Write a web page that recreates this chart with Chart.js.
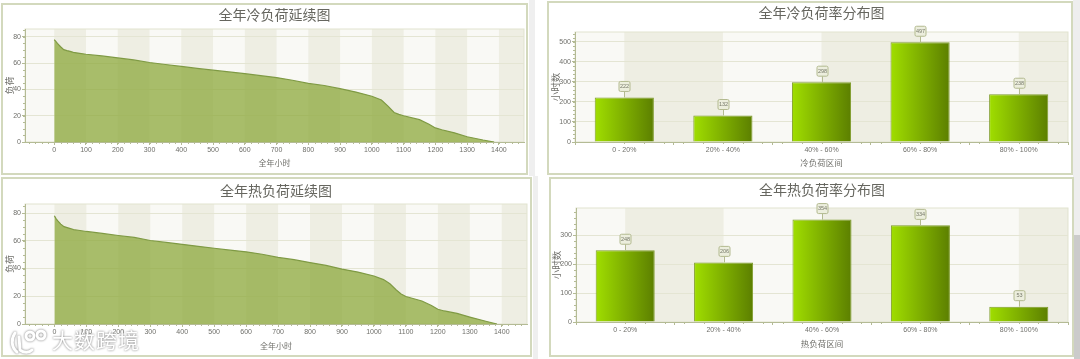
<!DOCTYPE html>
<html>
<head>
<meta charset="utf-8">
<title>全年负荷图</title>
<script src="https://cdn.jsdelivr.net/npm/chart.js@4"></script>
<style>
  html, body { margin: 0; padding: 0; background: #fff; overflow: hidden; }
  #page { position: relative; width: 1080px; height: 359px; overflow: hidden; }
  .panel { position: absolute; box-sizing: border-box; border: 2px solid #d3d9bd; }
  canvas { position: absolute; filter: blur(0.45px); }
  .strip { position: absolute; }
  #mark { position: absolute; left: 52px; top: 324px; font: 21px "Noto Sans CJK SC"; letter-spacing: 1px;
          color: #fff; filter: drop-shadow(0 0 1px #777); white-space: nowrap; }
  #logo { position: absolute; left: 9px; top: 327px; filter: drop-shadow(0 0 1px #777); }
</style>
</head>
<body>
<div id="page"></div>
<script>
// duration curves
const hours = [0, 5, 10, 20, 30, 40, 50, 60, 80, 100, 150, 200, 250, 300, 350, 400, 450, 500, 550, 600, 650, 700, 750, 800, 850, 900, 950, 1000, 1030, 1050, 1070, 1085, 1100, 1150, 1180, 1200, 1220, 1260, 1300, 1350, 1385];
const coldLoad = [78, 76.5, 75, 72.5, 70.3, 69.6, 69, 68.2, 67.5, 66.8, 65.5, 64, 62.5, 60.5, 59, 57.5, 56, 54.7, 53.3, 52, 50.5, 49, 47, 44.6, 43, 40.6, 38, 34.8, 32, 27.5, 22.5, 21, 20, 17, 13.5, 10.7, 9.3, 7, 4, 1.5, 0];
const heatLoad = [78, 76, 74.5, 72, 70.2, 69.5, 68.8, 68, 67.4, 66.7, 65.3, 63.8, 62.4, 60.2, 58.8, 57.4, 56, 54.6, 53.2, 52, 50.3, 48, 46.4, 44.3, 42.2, 39.6, 37.4, 34.6, 32, 29, 24.5, 21.6, 19.8, 16.6, 13.4, 10.6, 9.4, 7.6, 5, 2, 0];
const hourTicks = [0, 100, 200, 300, 400, 500, 600, 700, 800, 900, 1000, 1100, 1200, 1300, 1400];
const loadTicks = [0, 20, 40, 60, 80];

// load rate distribution
const rateCold = ['0 - 20%', '20% - 40%', '40% - 60%', '60% - 80%', '80% - 100%'];
const rateHeat = ['0 - 20%', '20% - 40%', '40% - 60%', '60% - 80%', '80% - 100%'];
const coldHours = [222, 132, 298, 497, 238];
const heatHours = [248, 206, 354, 334, 53];
const coldHourTicks = [0, 100, 200, 300, 400, 500];
const heatHourTicks = [0, 100, 200, 300];

const cjk = '"Noto Sans CJK SC"';
const tickFont = '"Liberation Sans Narrow", "Liberation Sans"';
const textColor = '#6f6f6a';
const axisColor = '#b4bb95';
const page = document.getElementById('page');

// grey strips at the screenshot edges
[[529, 0, 6, 176, '#efefef'], [533, 176, 5, 183, '#efefef'], [1073, 0, 7, 235, '#eeeeee'], [1074, 235, 6, 124, '#cbcbcb']].forEach(s => {
  const d = document.createElement('div');
  d.className = 'strip';
  d.style.cssText = `left:${s[0]}px;top:${s[1]}px;width:${s[2]}px;height:${s[3]}px;background:${s[4]}`;
  page.appendChild(d);
});

// alternating bands between the x ticks, drawn under the grid
const bandPlugin = {
  id: 'bands',
  beforeDraw(chart) {
    const { ctx, chartArea: a, scales } = chart;
    const x = scales.x;
    ctx.save();
    ctx.fillStyle = '#f9f9f5';
    ctx.fillRect(a.left, a.top, a.right - a.left, a.bottom - a.top);
    ctx.fillStyle = '#eeeee3';
    x.ticks.forEach((t, i) => {
      if (i % 2) return;
      const from = x.getPixelForTick(i);
      const to = i + 1 < x.ticks.length ? x.getPixelForTick(i + 1) : a.right;
      ctx.fillRect(from, a.top, to - from, a.bottom - a.top);
    });
    ctx.strokeStyle = '#e1e3cf';
    ctx.strokeRect(a.left, a.top, a.right - a.left, a.bottom - a.top);
    ctx.restore();
  }
};

// small ticks along both axes
const minorPlugin = {
  id: 'minor',
  afterDraw(chart, args, opts) {
    const { ctx, chartArea: a, scales } = chart;
    ctx.save();
    ctx.strokeStyle = axisColor;
    ctx.beginPath();
    for (let v = 0; v <= scales.y.max; v += opts.yStep) {
      const p = Math.round(scales.y.getPixelForValue(v)) + 0.5;
      ctx.moveTo(a.left - 2, p);
      ctx.lineTo(a.left, p);
    }
    for (let v = scales.x.min; v <= scales.x.max + 0.5; v += opts.xStep) {
      const snapped = opts.snap ? Math.round(v / opts.xStep) * opts.xStep : v;
      const p = scales.x.getPixelForValue(snapped);
      if (p < a.left || p > a.right) continue;
      ctx.moveTo(Math.round(p) + 0.5, a.bottom);
      ctx.lineTo(Math.round(p) + 0.5, a.bottom + 2);
    }
    ctx.stroke();
    ctx.restore();
  }
};

// value boxes on stems above the bars
const calloutPlugin = {
  id: 'callouts',
  afterDatasetsDraw(chart) {
    const meta = chart.getDatasetMeta(0);
    const values = chart.data.datasets[0].data;
    const { ctx } = chart;
    ctx.save();
    meta.data.forEach((bar, i) => {
      const x = Math.round(bar.x);
      const y = bar.y;
      ctx.strokeStyle = '#b3ba90';
      ctx.lineWidth = 1;
      ctx.beginPath();
      ctx.moveTo(x + 0.5, y);
      ctx.lineTo(x + 0.5, y - 6);
      ctx.stroke();
      ctx.fillStyle = '#eceedd';
      ctx.beginPath();
      ctx.roundRect(x - 5, y - 16, 11, 10, 1.5);
      ctx.fill();
      ctx.stroke();
      ctx.fillStyle = '#77796a';
      ctx.font = '5.5px ' + tickFont;
      ctx.textAlign = 'center';
      ctx.textBaseline = 'middle';
      ctx.fillText(String(values[i]), x + 0.5, y - 11);
    });
    ctx.restore();
  }
};

function makeCanvas(box) {
  const panel = document.createElement('div');
  panel.className = 'panel';
  panel.style.cssText = `left:${box.left}px;top:${box.top}px;width:${box.right - box.left}px;height:${box.bottom - box.top}px`;
  page.appendChild(panel);
  const canvas = document.createElement('canvas');
  canvas.width = box.right - box.left;
  canvas.height = box.bottom - box.top;
  canvas.style.left = box.left + 'px';
  canvas.style.top = box.top + 'px';
  page.appendChild(canvas);
  return canvas;
}

function commonOptions(box, titleText, xTitle, yTitle, xTitleSize, yTitleSize, yTicks) {
  const titleLine = 14 * 1.2;
  return {
    responsive: false,
    animation: false,
    layout: { padding: { top: 0, bottom: 0, left: 0, right: box.right - box.plotRight } },
    plugins: {
      legend: { display: false },
      tooltip: { enabled: false },
      title: {
        display: true,
        text: titleText,
        fullSize: false,
        color: '#66665f',
        font: { family: cjk, size: 14, weight: 'normal' },
        padding: {
          top: box.titleY - box.top - titleLine / 2,
          bottom: box.plotTop - box.titleY - titleLine / 2
        }
      }
    },
    scales: {
      x: {
        afterFit(s) { s.height = box.bottom - box.plotBottom; },
        border: { color: axisColor },
        grid: { display: true, drawOnChartArea: false, tickLength: 3, color: axisColor },
        ticks: { color: textColor, font: { family: tickFont, size: 7 }, padding: 1, maxRotation: 0, autoSkip: false },
        title: {
          display: true,
          text: xTitle,
          color: textColor,
          font: { family: cjk, size: xTitleSize },
          padding: { top: 0, bottom: box.bottom - box.xTitleY - xTitleSize * 0.6 }
        }
      },
      y: {
        min: 0,
        max: box.yMax,
        afterBuildTicks(s) { s.ticks = yTicks.map(v => ({ value: v })); },
        afterFit(s) { s.width = box.plotLeft - box.left; },
        border: { color: axisColor },
        grid: { color: '#e4e5d3', tickLength: 3, tickColor: axisColor },
        ticks: { color: textColor, font: { family: tickFont, size: 7 }, padding: 1, callback: v => String(v) },
        title: {
          display: true,
          text: yTitle,
          color: textColor,
          font: { family: cjk, size: yTitleSize },
          padding: { top: box.yTitleX - box.left - yTitleSize * 0.6, bottom: 0 }
        }
      }
    }
  };
}

function drawCurve(box, titleText, series) {
  const options = commonOptions(box, titleText, '全年小时', '负荷', 8, 9, loadTicks);
  Object.assign(options.scales.x, {
    type: 'linear',
    min: -92,
    max: 1479,
    afterBuildTicks(s) { s.ticks = hourTicks.map(v => ({ value: v })); }
  });
  options.scales.x.ticks.callback = v => String(v);
  options.plugins.minor = { xStep: 20, yStep: 5, snap: true };
  new Chart(makeCanvas(box), {
    type: 'line',
    data: {
      datasets: [{
        data: hours.map((h, i) => ({ x: h, y: series[i] })),
        borderColor: '#7f9a44',
        borderWidth: 1.2,
        backgroundColor: 'rgba(145,172,66,0.78)',
        fill: 'origin',
        pointRadius: 0,
        tension: 0
      }]
    },
    options,
    plugins: [bandPlugin, minorPlugin]
  });
}

function drawBars(box, titleText, xTitle, labels, values, yTicks) {
  const barShare = 0.6;
  const options = commonOptions(box, titleText, xTitle, '小时数', 8.5, 9.5, yTicks);
  options.plugins.minor = { xStep: 0.2, yStep: 20, snap: false };
  new Chart(makeCanvas(box), {
    type: 'bar',
    data: {
      labels,
      datasets: [{
        data: values,
        categoryPercentage: 1,
        barPercentage: barShare,
        borderColor: '#7e9c2a',
        borderWidth: 1,
        backgroundColor(c) {
          const { chart, dataIndex } = c;
          if (!chart.chartArea) return '#7fb000';
          const x = chart.scales.x;
          const half = (x.getPixelForValue(1) - x.getPixelForValue(0)) * barShare / 2;
          const mid = x.getPixelForValue(dataIndex);
          const g = chart.ctx.createLinearGradient(mid - half, 0, mid + half, 0);
          g.addColorStop(0, '#a0de00');
          g.addColorStop(1, '#5c7f00');
          return g;
        }
      }]
    },
    options,
    plugins: [bandPlugin, minorPlugin, calloutPlugin]
  });
}

drawCurve({ left: 1, top: 3, right: 528, bottom: 175, plotLeft: 25, plotRight: 524, plotTop: 29, plotBottom: 142, titleY: 15, xTitleY: 163, yTitleX: 10, yMax: 86 }, '全年冷负荷延续图', coldLoad);
drawCurve({ left: 1, top: 177, right: 532, bottom: 357, plotLeft: 25, plotRight: 527, plotTop: 204, plotBottom: 324, titleY: 191, xTitleY: 346, yTitleX: 10, yMax: 86.5 }, '全年热负荷延续图', heatLoad);
drawBars({ left: 547, top: 1, right: 1073, bottom: 175, plotLeft: 575, plotRight: 1068, plotTop: 32, plotBottom: 142, titleY: 13, xTitleY: 163, yTitleX: 555, yMax: 548 }, '全年冷负荷率分布图', '冷负荷区间', rateCold, coldHours, coldHourTicks);
drawBars({ left: 549, top: 177, right: 1074, bottom: 357, plotLeft: 576, plotRight: 1068, plotTop: 208, plotBottom: 322, titleY: 190, xTitleY: 344, yTitleX: 556, yMax: 394 }, '全年热负荷率分布图', '热负荷区间', rateHeat, heatHours, heatHourTicks);

// watermark
const ns = 'http://www.w3.org/2000/svg';
const logo = document.createElementNS(ns, 'svg');
logo.id = 'logo';
logo.setAttribute('width', '40');
logo.setAttribute('height', '30');
logo.innerHTML = '<g fill="none" stroke="#fff" stroke-width="3" stroke-linecap="round">' +
  '<path d="M6 6 C2 12 2 20 8 25 M10 10 L11 23 C15 26 20 26 23 23"/>' +
  '<circle cx="21" cy="9" r="4"/><circle cx="32" cy="8" r="4"/></g>';
page.appendChild(logo);
const mark = document.createElement('div');
mark.id = 'mark';
mark.textContent = '大数跨境';
page.appendChild(mark);
</script>
</body>
</html>
